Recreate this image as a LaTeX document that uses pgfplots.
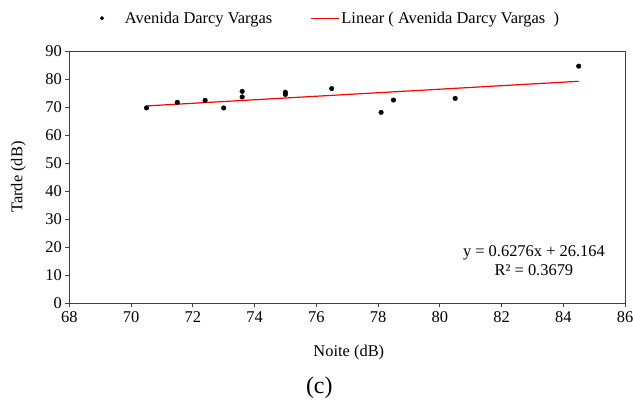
\documentclass[border=0pt]{standalone}
\usepackage{pgfplots}
\pgfplotsset{compat=1.18}
\usepackage{fontspec}
\setmainfont{Liberation Serif}
\begin{document}
\begin{tikzpicture}
\useasboundingbox (-69.3bp,-97.7bp) rectangle (563.7bp,303.3bp);
\begin{axis}[
  at={(0,0)}, anchor=south west,
  scale only axis, width=555.7bp, height=252.3bp,
  xmin=68, xmax=86, ymin=0, ymax=90,
  xtick={68,70,...,86}, ytick={0,10,...,90},
  tick align=outside, xtick pos=bottom, ytick pos=left,
  major tick length=4bp,
  axis line style={black!75, line width=0.8bp},
  tick style={black!75, line width=0.8bp},
  /pgf/number format/assume math mode=true,
  tick label style={font=\fontsize{16.5}{19}\selectfont},
  xticklabel style={yshift=-1bp},
  xlabel={Noite (dB)}, ylabel={Tarde (dB)},
  label style={font=\fontsize{16.5}{19}\selectfont},
  xlabel style={at={(axis description cs:0.503,0)}, anchor=center, yshift=-49.7bp},
  ylabel style={at={(axis description cs:0,0.5)}, anchor=center, yshift=51bp},
  legend columns=2,
  legend style={at={(axis description cs:0.47,1.13)}, anchor=center, draw=none, fill=none,
    font=\fontsize{16.5}{19}\selectfont, /tikz/every even column/.append style={column sep=36bp}},
]
\addplot[only marks, mark=*, mark size=2.3bp, black,
  legend image code/.code={\path[draw=none] (0bp,0bp) -- (21bp,0bp); \fill[black] (0bp,0bp) circle (1.8bp);}] coordinates {
(70.5,69.7) (71.5,71.7) (72.4,72.4) (73.0,69.7) (73.6,75.6) (73.6,73.6)
(75.0,75.3) (75.0,74.5) (76.5,76.6) (78.1,68.1) (78.5,72.5) (80.5,73.1) (84.5,84.6)
};
\addlegendentry{Avenida Darcy Vargas}
\addplot[red, line width=1.2bp, legend image code/.code={\draw[red, line width=1.2bp] (0bp,0bp) -- (28bp,0bp);}] coordinates {
(70.5,70.41) (84.5,79.20)
};
\addlegendentry{Linear ( Avenida Darcy Vargas\ \ )}
\node[align=center, font=\fontsize{16.5}{19}\selectfont] at (axis cs:83.05,15.3) {y = 0.6276x + 26.164\\R² = 0.3679};
\end{axis}
\node[font=\fontsize{24}{28}\selectfont] at (250bp,-84bp) {(c)};
\end{tikzpicture}
\end{document}
